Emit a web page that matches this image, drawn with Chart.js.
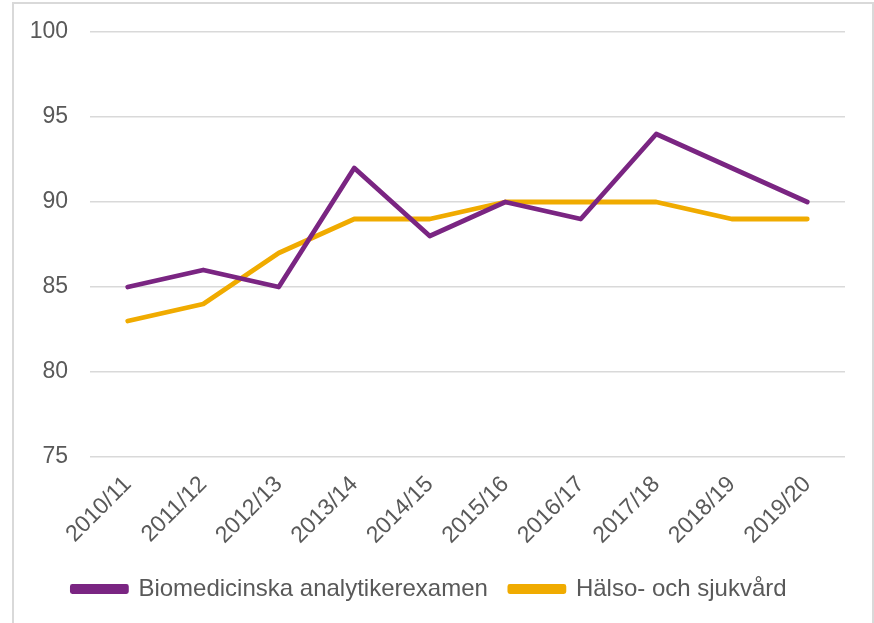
<!DOCTYPE html>
<html><head><meta charset="utf-8">
<script src="https://cdn.jsdelivr.net/npm/chart.js@4"></script>
<style>
html,body{margin:0;padding:0;background:#fff;width:874px;height:623px;overflow:hidden;}
#frame{position:absolute;left:12px;top:2px;width:858px;height:660px;border:2px solid #d9d9d9;}
#wrap{position:absolute;left:0;top:0;width:874px;height:623px;}
</style></head>
<body>
<div id="frame"></div>
<div id="wrap"><canvas id="c" width="874" height="623"></canvas></div>
<script>
const categories = ["2010/11","2011/12","2012/13","2013/14","2014/15","2015/16","2016/17","2017/18","2018/19","2019/20"];
const biomedicinska = [85,86,85,92,88,90,89,94,92,90];
const halsoSjukvard = [83,84,87,89,89,90,90,90,89,89];
const seriesNames = ["Biomedicinska analytikerexamen","Hälso- och sjukvård"];
const yTicks = [75,80,85,90,95,100];

const font = "'Liberation Sans', Arial, sans-serif";
new Chart(document.getElementById('c'), {
  type: 'line',
  data: {
    labels: categories,
    datasets: [
      {label: seriesNames[0], data: biomedicinska, borderColor:'#7a2582', backgroundColor:'#7a2582', borderWidth:4.8, pointRadius:0, tension:0, borderJoinStyle:'round', borderCapStyle:'round'},
      {label: seriesNames[1], data: halsoSjukvard, borderColor:'#f0ab00', backgroundColor:'#f0ab00', borderWidth:4.8, pointRadius:0, tension:0, borderJoinStyle:'round', borderCapStyle:'round'}
    ]
  },
  options: {
    responsive:false, animation:false,
    layout:{padding:{left:14, right:29, top:32, bottom:12}},
    plugins:{
      legend:{position:'bottom', labels:{font:{family:font,size:24}, color:'#595959', boxWidth:54, boxHeight:5, padding:22}},
      tooltip:{enabled:false}
    },
    scales:{
      x:{offset:true, grid:{display:false, drawTicks:false}, border:{display:false},
         ticks:{font:{family:font,size:23}, color:'#595959', maxRotation:45, minRotation:45, padding:14},
         afterFit(s){ s.height = 98; s.paddingLeft = 0; s.paddingRight = 0; }},
      y:{min:75, max:100, afterBuildTicks(s){ s.ticks = yTicks.map(v=>({value:v})); },
         grid:{color:'#d9d9d9', lineWidth:1.5, drawTicks:false}, border:{display:false},
         ticks:{font:{family:font,size:23}, color:'#595959', padding:22},
         afterFit(s){ s.width = 76; s.paddingTop = 0; s.paddingBottom = 0; }}
    }
  }
});
</script>
</body></html>
